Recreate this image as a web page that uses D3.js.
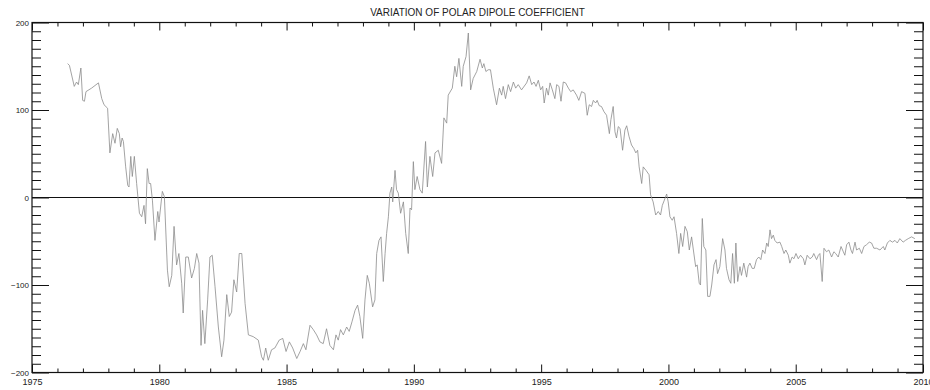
<!DOCTYPE html>
<html>
<head>
<meta charset="utf-8">
<script src="https://cdn.jsdelivr.net/npm/d3@7"></script>
<style>
  html, body { margin: 0; padding: 0; background: #fff; }
  svg { display: block; }
  text { font-family: "Liberation Sans", Arial, Helvetica, sans-serif; fill: #222; }
</style>
</head>
<body>
<svg id="chart" width="930" height="390"></svg>
<script>
// Polar dipole coefficient (decimal year, value)
const years = [
  1976.40,1976.47,1976.66,1976.75,1976.82,1976.92,1976.99,1977.06,1977.12,1977.34,
  1977.61,1977.74,1977.83,1977.97,1978.06,1978.17,1978.26,1978.35,1978.43,1978.48,
  1978.54,1978.59,1978.68,1978.76,1978.81,1978.88,1978.94,1979.02,1979.11,1979.22,
  1979.31,1979.40,1979.46,1979.53,1979.60,1979.66,1979.73,1979.83,1979.94,1979.99,
  1980.12,1980.20,1980.32,1980.39,1980.49,1980.58,1980.68,1980.77,1980.88,1980.94,
  1981.04,1981.14,1981.27,1981.38,1981.47,1981.56,1981.64,1981.70,1981.79,1981.90,
  1981.99,1982.08,1982.19,1982.32,1982.45,1982.54,1982.65,1982.75,1982.84,1982.93,
  1983.04,1983.14,1983.24,1983.37,1983.50,1983.69,1983.89,1984.02,1984.09,1984.18,
  1984.28,1984.41,1984.54,1984.71,1984.85,1984.98,1985.11,1985.24,1985.40,1985.53,
  1985.66,1985.76,1985.92,1986.05,1986.18,1986.31,1986.44,1986.57,1986.70,1986.84,
  1986.94,1987.03,1987.12,1987.23,1987.36,1987.46,1987.57,1987.69,1987.79,1987.88,
  1987.99,1988.08,1988.17,1988.25,1988.38,1988.47,1988.54,1988.63,1988.71,1988.80,
  1988.87,1988.93,1989.00,1989.06,1989.13,1989.17,1989.26,1989.32,1989.39,1989.48,
  1989.59,1989.68,1989.78,1989.85,1989.91,1989.98,1990.04,1990.13,1990.24,1990.33,
  1990.46,1990.53,1990.63,1990.74,1990.83,1990.96,1991.09,1991.18,1991.29,1991.35,
  1991.51,1991.61,1991.68,1991.77,1991.88,1991.94,1992.05,1992.14,1992.23,1992.33,
  1992.47,1992.60,1992.69,1992.75,1992.83,1992.92,1993.01,1993.12,1993.25,1993.36,
  1993.45,1993.51,1993.60,1993.71,1993.80,1993.91,1994.00,1994.10,1994.23,1994.43,
  1994.53,1994.63,1994.72,1994.80,1994.89,1994.98,1995.06,1995.12,1995.21,1995.28,
  1995.35,1995.44,1995.54,1995.61,1995.70,1995.78,1995.87,1995.96,1996.07,1996.16,
  1996.26,1996.39,1996.48,1996.59,1996.72,1996.81,1996.89,1996.98,1997.05,1997.14,
  1997.20,1997.28,1997.37,1997.47,1997.57,1997.68,1997.74,1997.83,1997.90,1997.96,
  1998.03,1998.10,1998.20,1998.29,1998.36,1998.45,1998.55,1998.64,1998.72,1998.79,
  1998.85,1998.95,1999.01,1999.12,1999.24,1999.30,1999.40,1999.50,1999.60,1999.69,
  1999.76,1999.84,1999.93,1999.99,2000.06,2000.15,2000.22,2000.32,2000.41,2000.48,
  2000.56,2000.65,2000.74,2000.82,2000.91,2000.98,2001.07,2001.13,2001.21,2001.26,
  2001.33,2001.39,2001.47,2001.54,2001.63,2001.70,2001.79,2001.87,2001.93,2002.02,
  2002.13,2002.22,2002.28,2002.38,2002.45,2002.52,2002.59,2002.65,2002.72,2002.81,
  2002.87,2002.96,2003.07,2003.13,2003.20,2003.29,2003.37,2003.46,2003.55,2003.63,
  2003.70,2003.79,2003.86,2003.92,2003.99,2004.05,2004.12,2004.18,2004.27,2004.38,
  2004.45,2004.54,2004.61,2004.71,2004.77,2004.86,2004.93,2005.01,2005.10,2005.19,
  2005.30,2005.36,2005.45,2005.56,2005.65,2005.71,2005.82,2005.89,2005.95,2006.04,
  2006.11,2006.21,2006.30,2006.41,2006.50,2006.57,2006.67,2006.78,2006.87,2006.93,
  2007.00,2007.09,2007.17,2007.23,2007.33,2007.39,2007.50,2007.59,2007.68,2007.78,
  2007.89,2007.98,2008.07,2008.18,2008.31,2008.44,2008.50,2008.60,2008.70,2008.80,
  2008.90,2008.99,2009.09,2009.22,2009.31,2009.42,2009.55,2009.68
];
const dipole = [
  153,151,127,132,129,148,111,110,121,125,
  131,113,106,102,51,73,62,79,73,58,
  68,64,35,14,12,47,24,47,16,-18,
  -22,-9,-30,33,16,16,-3,-49,-16,-28,
  7,1,-83,-102,-89,-33,-77,-64,-98,-132,
  -68,-68,-92,-81,-64,-75,-169,-129,-167,-117,
  -68,-66,-102,-148,-182,-163,-111,-136,-131,-94,
  -108,-64,-64,-121,-157,-159,-163,-182,-186,-172,
  -186,-174,-172,-163,-161,-176,-165,-172,-184,-176,
  -167,-174,-146,-151,-157,-165,-167,-150,-169,-174,
  -157,-163,-151,-157,-148,-153,-142,-129,-123,-136,
  -161,-117,-89,-98,-125,-117,-64,-49,-45,-96,
  -64,-41,-22,5,12,-5,31,9,5,-18,
  -5,-41,-64,-12,-14,41,9,24,9,5,
  64,12,47,24,51,54,39,91,85,117,
  125,150,138,159,127,150,161,188,123,136,
  144,158,148,153,144,146,146,125,106,125,
  117,127,113,129,121,132,125,129,123,131,
  139,129,132,127,134,123,127,108,125,117,
  131,123,113,129,127,110,132,131,125,121,
  123,117,111,121,119,94,106,104,111,108,
  111,105,104,98,94,73,89,104,75,68,
  81,79,54,77,82,70,60,56,51,54,
  35,16,35,31,26,3,-5,-20,-16,-20,
  -9,-3,4,-5,-22,-26,-22,-41,-64,-41,
  -56,-33,-39,-60,-45,-60,-79,-77,-98,-100,
  -24,-56,-60,-113,-113,-100,-77,-71,-87,-79,
  -47,-60,-81,-94,-98,-64,-98,-52,-96,-79,
  -89,-75,-91,-79,-75,-81,-81,-71,-68,-71,
  -60,-64,-52,-56,-37,-47,-43,-49,-52,-51,
  -56,-64,-60,-66,-75,-68,-70,-64,-70,-66,
  -70,-77,-66,-70,-68,-64,-71,-66,-64,-96,
  -58,-62,-60,-68,-62,-64,-68,-56,-62,-66,
  -54,-51,-60,-64,-51,-60,-58,-64,-56,-54,
  -51,-52,-58,-58,-60,-56,-60,-52,-49,-51,
  -49,-52,-47,-51,-49,-47,-45,-47
];

// Axis ranges and tick values
const xDomain = [1975, 2010];
const yDomain = [-200, 200];
const xMajorTicks = [1975, 1980, 1985, 1990, 1995, 2000, 2005, 2010];
const yMajorTicks = [-200, -100, 0, 100, 200];
const titleText = "VARIATION OF POLAR DIPOLE COEFFICIENT";

const svg = d3.select("#chart");
const margin = { left: 32, right: 7, top: 22.5, bottom: 17.5 };
const W = 930, H = 390;
const innerW = W - margin.left - margin.right;
const innerH = H - margin.top - margin.bottom;

const x = d3.scaleLinear().domain(xDomain).range([0, innerW]);
const y = d3.scaleLinear().domain(yDomain).range([innerH, 0]);

const g = svg.append("g").attr("transform", `translate(${margin.left},${margin.top})`);

const xMinor = d3.range(xDomain[0], xDomain[1] + 1, 1).filter(v => v % 5 !== 0);
const yMinor = d3.range(yDomain[0], yDomain[1] + 1, 10).filter(v => v % 100 !== 0);

function styleAxis(sel) {
  sel.select(".domain").remove();
  sel.selectAll("line").attr("stroke", "#111").attr("stroke-width", 1);
  sel.selectAll("text").attr("fill", "#222");
}

// Bottom axis with labels, ticks drawn inward
g.append("g").attr("transform", `translate(0,${innerH})`)
  .call(d3.axisBottom(x).tickValues(xMajorTicks).tickFormat(d3.format("d"))
    .tickSize(-8).tickPadding(6))
  .call(styleAxis)
  .call(s => s.selectAll("text").style("font-size", "9px")
    .style("font-family", "'Liberation Sans', Arial, sans-serif"));
g.append("g").attr("transform", `translate(0,${innerH})`)
  .call(d3.axisBottom(x).tickValues(xMinor).tickFormat("").tickSize(-4))
  .call(styleAxis);

// Top axis (mirrored ticks, no labels)
g.append("g")
  .call(d3.axisTop(x).tickValues(xMajorTicks).tickFormat("").tickSize(-8))
  .call(styleAxis);
g.append("g")
  .call(d3.axisTop(x).tickValues(xMinor).tickFormat("").tickSize(-4))
  .call(styleAxis);

// Left axis with labels
g.append("g")
  .call(d3.axisLeft(y).tickValues(yMajorTicks).tickFormat(d3.format("d"))
    .tickSize(-17).tickPadding(3))
  .call(styleAxis)
  .call(s => s.selectAll("text").style("font-size", "8px")
    .style("font-family", "'Liberation Sans', Arial, sans-serif")
    .text(d => d < 0 ? "\u2212" + Math.abs(d) : d));
g.append("g")
  .call(d3.axisLeft(y).tickValues(yMinor).tickFormat("").tickSize(-9))
  .call(styleAxis);

// Right axis (mirrored ticks)
g.append("g").attr("transform", `translate(${innerW},0)`)
  .call(d3.axisRight(y).tickValues(yMajorTicks).tickFormat("").tickSize(-17))
  .call(styleAxis);
g.append("g").attr("transform", `translate(${innerW},0)`)
  .call(d3.axisRight(y).tickValues(yMinor).tickFormat("").tickSize(-9))
  .call(styleAxis);

// Frame
g.append("rect")
  .attr("x", 0).attr("y", 0).attr("width", innerW).attr("height", innerH)
  .attr("fill", "none").attr("stroke", "#111").attr("stroke-width", 1.2);

// Zero reference line
g.append("line")
  .attr("x1", 0).attr("x2", innerW)
  .attr("y1", y(0)).attr("y2", y(0))
  .attr("stroke", "#111").attr("stroke-width", 1.1);

// Series
const series = years.map((t, i) => ({ t, v: dipole[i] }));
g.append("path")
  .datum(series)
  .attr("fill", "none")
  .attr("stroke", "#8c8c8c")
  .attr("stroke-width", 0.8)
  .attr("stroke-linejoin", "round")
  .attr("d", d3.line().x(d => x(d.t)).y(d => y(d.v)));

// Title
svg.append("text")
  .attr("x", margin.left + innerW / 2)
  .attr("y", 16)
  .attr("text-anchor", "middle")
  .style("font-size", "10px")
  .text(titleText);
</script>
</body>
</html>
